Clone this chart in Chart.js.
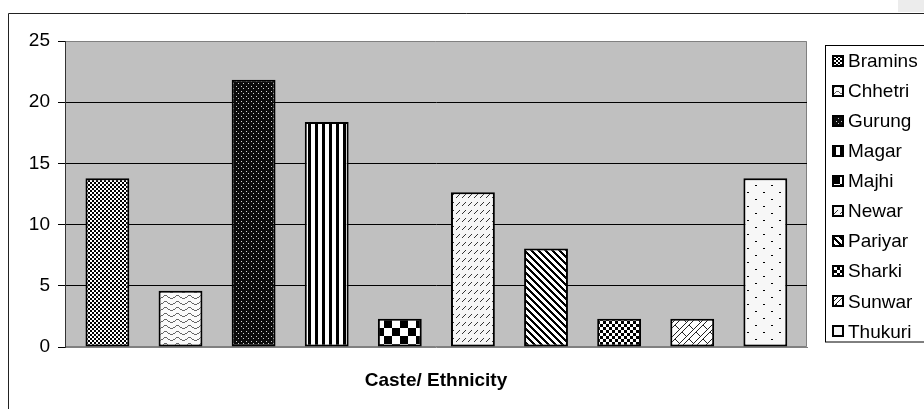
<!DOCTYPE html>
<html>
<head>
<meta charset="utf-8">
<script src="https://cdn.jsdelivr.net/npm/chart.js@4/dist/chart.umd.min.js"></script>
<style>
  html, body { margin: 0; padding: 0; background: #fff; }
  #wrap { width: 924px; height: 409px; position: relative; }
</style>
</head>
<body>
<div id="wrap"><canvas id="c" width="924" height="409"></canvas></div>
<script>
// Share of respondents by caste / ethnicity (%)
const categories = ['Bramins', 'Chhetri', 'Gurung', 'Magar', 'Majhi', 'Newar', 'Pariyar', 'Sharki', 'Sunwar', 'Thukuri'];
const shares = [13.79, 4.60, 21.84, 18.39, 2.30, 12.64, 8.05, 2.30, 2.30, 13.79];
const yTicks = [0, 5, 10, 15, 20, 25];
const axisTitle = 'Caste/ Ethnicity';

const FONT = "'Liberation Sans', Arial, Helvetica, sans-serif";

// ---- monochrome fill patterns, one per category ----
function tile(w, h, paint) {
  const c = document.createElement('canvas');
  c.width = w; c.height = h;
  const g = c.getContext('2d');
  paint(g, w, h);
  return c;
}
function dots(g, color, pts) {
  g.fillStyle = color;
  pts.forEach(([x, y, w = 1, h = 1]) => g.fillRect(x, y, w, h));
}
function bg(g, w, h, color) { g.fillStyle = color; g.fillRect(0, 0, w, h); }

const tiles = {
  Bramins: tile(4, 4, (g, w, h) => { bg(g, w, h, '#fff'); dots(g, '#000', [[0, 0, 2, 2], [2, 2, 2, 2]]); }),
  Chhetri: tile(12, 6, (g, w, h) => {
    bg(g, w, h, '#fafafa');
    const pts = [];
    for (let x = 0; x < w; x++) pts.push([x, Math.round(2.5 + 1.5 * Math.sin(x / w * 2 * Math.PI))]);
    dots(g, '#666', pts);
  }),
  Gurung: tile(5, 5, (g, w, h) => { bg(g, w, h, '#0c0c0c'); dots(g, '#d0d0d0', [[1, 1], [3, 3]]); }),
  Magar: tile(7, 1, (g, w, h) => { bg(g, w, h, '#fff'); dots(g, '#000', [[0, 0, 3, 1]]); }),
  Majhi: tile(16, 16, (g, w, h) => { bg(g, w, h, '#fff'); dots(g, '#000', [[0, 0, 8, 8], [8, 8, 8, 8]]); }),
  Newar: tile(6, 8, (g, w, h) => { bg(g, w, h, '#f6f6f6'); dots(g, '#333', [[0, 5], [1, 4], [2, 3], [3, 2]]); }),
  Pariyar: tile(7, 7, (g, w, h) => {
    bg(g, w, h, '#fff');
    const pts = [];
    for (let y = 0; y < h; y++) for (let k = 0; k < 3; k++) pts.push([(y + k) % w, y]);
    dots(g, '#000', pts);
  }),
  Sharki: tile(6, 6, (g, w, h) => { bg(g, w, h, '#fff'); dots(g, '#000', [[0, 0, 3, 3], [3, 3, 3, 3]]); }),
  Sunwar: tile(14, 14, (g, w, h) => {
    bg(g, w, h, '#fff');
    const pts = [];
    for (let y = 0; y < h; y++) for (let x = 0; x < w; x++) {
      const s = (x + y) % 14;
      const d = ((x - y) % 14 + 14) % 14;
      if (s === 0 || s === 5) pts.push([x, y]);
      else if (d === 0 && s > 5) pts.push([x, y]);
    }
    dots(g, '#222', pts);
  }),
  Thukuri: tile(16, 14, (g, w, h) => { bg(g, w, h, '#f7f7f7'); dots(g, '#000', [[3, 3, 2, 1], [11, 10, 2, 1]]); })
};

const canvas = document.getElementById('c');
const ctx = canvas.getContext('2d');
const fills = categories.map(c => ctx.createPattern(tiles[c], 'repeat'));

// ---- frame, plot background and plot border ----
const plotBackdrop = {
  id: 'plotBackdrop',
  beforeDraw(chart) {
    const { ctx, chartArea: a } = chart;
    ctx.save();
    ctx.fillStyle = '#ececec';
    ctx.fillRect(898, 0, 26, 12);
    ctx.strokeStyle = '#222';
    ctx.lineWidth = 1;
    ctx.beginPath();
    ctx.moveTo(8.5, 409); ctx.lineTo(8.5, 13.5); ctx.lineTo(924, 13.5);
    ctx.stroke();
    ctx.fillStyle = '#c0c0c0';
    ctx.fillRect(a.left, a.top, a.right - a.left, a.bottom - a.top);
    ctx.strokeStyle = '#808080';
    ctx.beginPath();
    ctx.moveTo(a.left, a.top + 0.5); ctx.lineTo(a.right - 0.5, a.top + 0.5);
    ctx.lineTo(a.right - 0.5, a.bottom - 0.5); ctx.lineTo(a.left, a.bottom - 0.5);
    ctx.stroke();
    ctx.restore();
  }
};

// ---- boxed legend listing each category with its fill ----
const boxedLegend = {
  id: 'boxedLegend',
  afterDraw(chart) {
    const { ctx } = chart;
    const ds = chart.data.datasets[0];
    const labels = chart.data.labels;
    ctx.save();
    ctx.strokeStyle = '#000';
    ctx.lineWidth = 1;
    ctx.strokeRect(825.5, 45.5, 140, 296.5);
    ctx.font = '19px ' + FONT;
    ctx.textBaseline = 'middle';
    ctx.textAlign = 'left';
    labels.forEach((label, i) => {
      const cy = 60.5 + i * 30.1;
      const top = Math.round(cy - 6);
      ctx.fillStyle = ds.backgroundColor[i];
      ctx.fillRect(832, top, 12, 12);
      ctx.strokeStyle = '#000';
      ctx.lineWidth = 2;
      ctx.strokeRect(833, top + 1, 10, 10);
      ctx.fillStyle = '#000';
      ctx.fillText(label, 848, cy + 1);
    });
    ctx.restore();
  }
};

new Chart(canvas, {
  type: 'bar',
  data: {
    labels: categories,
    datasets: [{
      data: shares.map((v, i) => ({ x: i, y: v })),
      backgroundColor: fills,
      borderColor: '#000',
      borderWidth: 2,
      borderSkipped: false,
      barPercentage: 0.6,
      categoryPercentage: 1.0
    }]
  },
  options: {
    responsive: false,
    devicePixelRatio: 1,
    animation: false,
    events: [],
    layout: { padding: { left: 8, top: 41, right: 117, bottom: 0 } },
    plugins: { legend: { display: false }, tooltip: { enabled: false } },
    scales: {
      x: {
        type: 'linear',
        offset: false,
        min: -0.58,
        max: 9.57,
        ticks: { display: false },
        grid: { display: false },
        border: { display: true, color: '#808080', width: 1 },
        title: {
          display: true,
          text: axisTitle,
          color: '#000',
          font: { family: FONT, size: 19, weight: 'bold' },
          padding: { top: 0, bottom: 17 }
        },
        afterFit(s) { s.height = 62; }
      },
      y: {
        min: 0,
        max: 25,
        afterBuildTicks(s) { s.ticks = yTicks.map(v => ({ value: v })); },
        ticks: { color: '#000', padding: 8, font: { family: FONT, size: 19 } },
        grid: {
          color: c => (c.tick && (c.tick.value === 0 || c.tick.value === 25)) ? 'rgba(0,0,0,0)' : '#000',
          tickColor: '#000',
          tickLength: 7,
          lineWidth: 1
        },
        border: { display: true, color: '#333', width: 1 },
        afterFit(s) { s.width = 57; }
      }
    }
  },
  plugins: [plotBackdrop, boxedLegend]
});
</script>
</body>
</html>
